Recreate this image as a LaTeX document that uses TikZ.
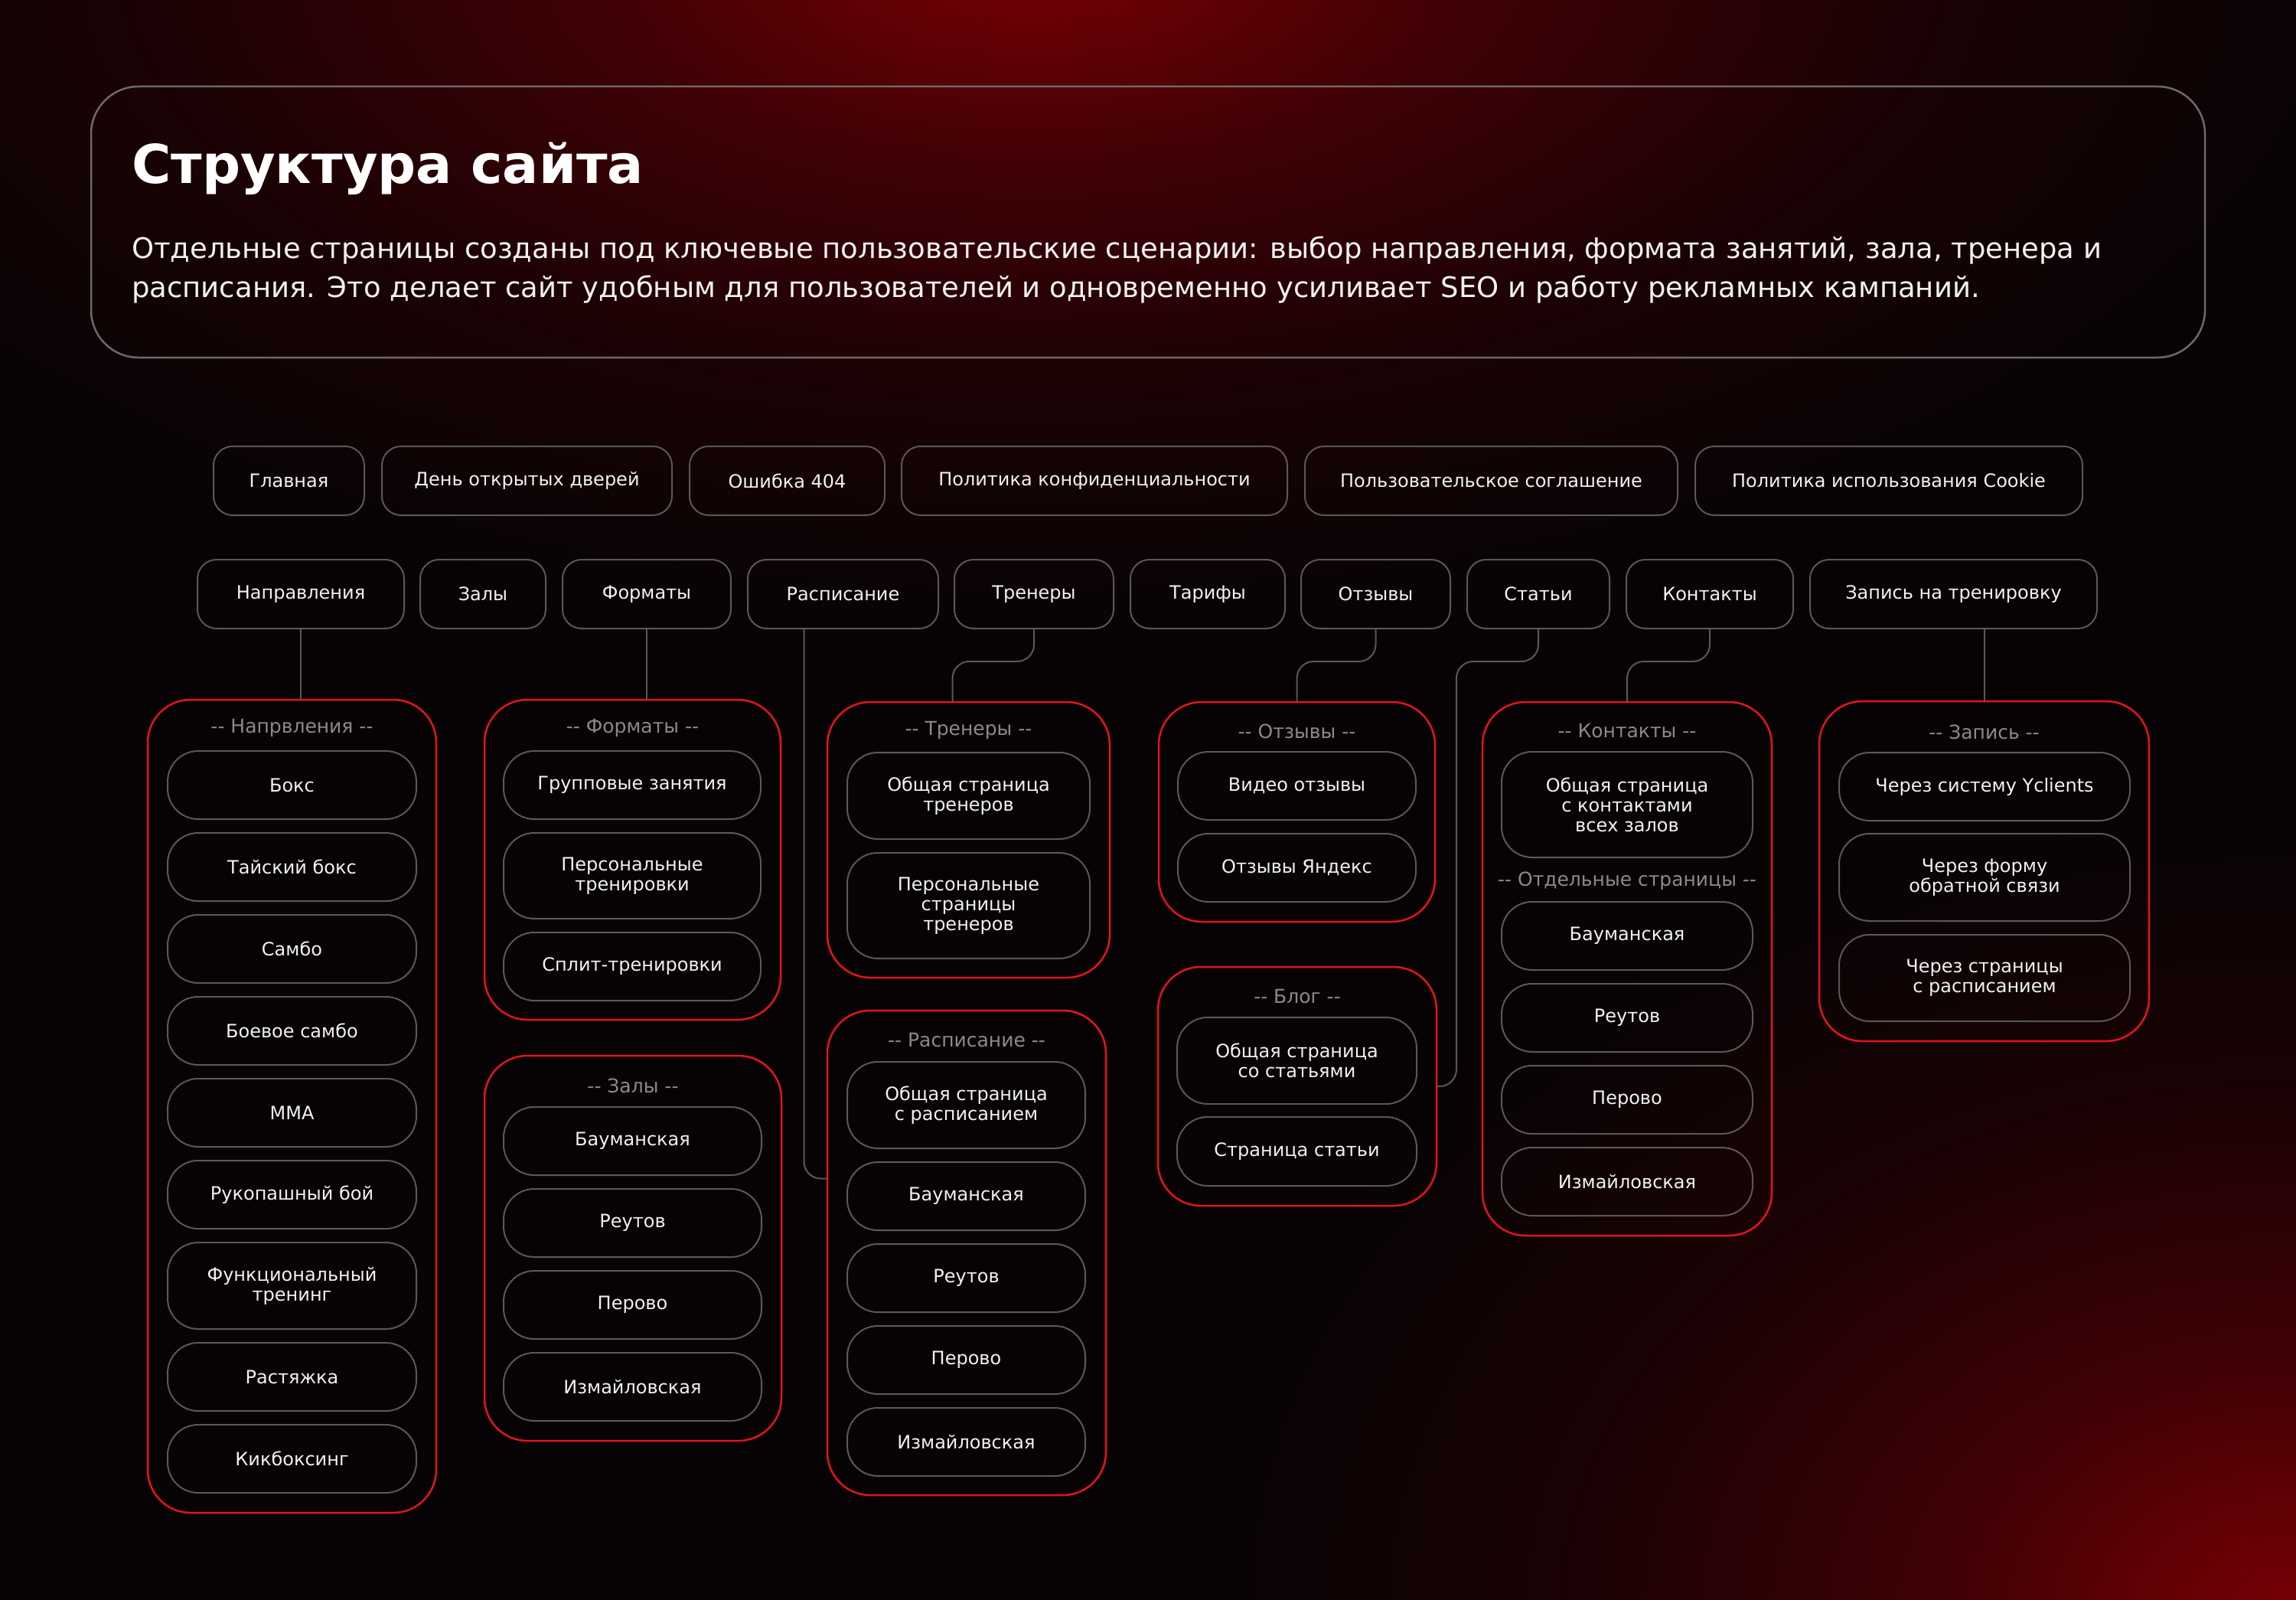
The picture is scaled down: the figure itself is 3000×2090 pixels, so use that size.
\documentclass[tikz,border=0pt]{standalone}
\usepackage{fontspec}
\setmainfont{DejaVu Sans}
\definecolor{bgc}{HTML}{070304}
\definecolor{glowred}{HTML}{780006}
\definecolor{linered}{HTML}{E3131D}
\definecolor{boxgray}{HTML}{585858}
\definecolor{panelgray}{HTML}{6A6A6A}
\definecolor{hdrgray}{HTML}{8A8A8A}
\definecolor{txt}{HTML}{F2F2F2}
\colorlet{glowmid}{glowred!50!bgc}
\colorlet{glowlow}{glowred!18!bgc}
\pgfdeclareradialshading{glowsh}{\pgfpointorigin}{color(0bp)=(glowred); color(8bp)=(glowmid); color(16bp)=(glowlow); color(25bp)=(bgc); color(50bp)=(bgc)}
\tikzset{
  topbox/.style={draw=boxgray, line width=2pt, rounded corners=25pt, inner sep=0pt, outer sep=0pt,
    text=txt, font=\fontsize{24}{26}\selectfont, align=center},
  item/.style={topbox, rounded corners=40pt},
  grp/.style={draw=linered, line width=2.5pt, rounded corners=56pt, inner sep=0pt, outer sep=0pt},
  panel/.style={draw=panelgray, line width=2.5pt, rounded corners=62pt, inner sep=0pt, outer sep=0pt},
  grphead/.style={text=hdrgray, font=\fontsize{25}{27}\selectfont, inner sep=0pt},
  conn/.style={draw=boxgray, line width=2pt, rounded corners=22pt},
}
\newcommand\bx[7][item]{\node[#1, minimum width=#5-#3, minimum height=#6-#4] (#2) at ({(#3+#5)/2},{(#4+#6)/2}) {#7};}
\begin{document}
\begin{tikzpicture}[x=1pt,y=-1pt]
\useasboundingbox (0,0) rectangle (3000,2090);
\fill[bgc] (0,0) rectangle (3000,2090);
\begin{scope}
\clip (0,0) rectangle (3000,2090);
\shade[shading=glowsh] (1350,-60) ellipse [x radius=1800pt, y radius=880pt];
\shade[shading=glowsh] (3000,2110) ellipse [x radius=1450pt, y radius=1050pt];
\end{scope}

% header panel
\bx[panel]{panel}{119}{113}{2881}{467}{}
\node[anchor=base west, inner sep=0pt, text=white, font=\bfseries\fontsize{70}{74}\selectfont] (title) at (172,239) {Структура сайта};
\node[anchor=base west, inner sep=0pt, text=txt, font=\fontsize{37}{42}\selectfont] (para1) at (172,337) {Отдельные страницы созданы под ключевые пользовательские сценарии: выбор направления, формата занятий, зала, тренера и};
\node[anchor=base west, inner sep=0pt, text=txt, font=\fontsize{37}{42}\selectfont] (para2) at (172,388) {расписания. Это делает сайт удобным для пользователей и одновременно усиливает SEO и работу рекламных кампаний.};

% top row
\bx[topbox]{t1}{279}{583}{476}{673}{Главная}
\bx[topbox]{t2}{499}{583}{878}{673}{День открытых дверей}
\bx[topbox]{t3}{901}{583}{1156}{673}{Ошибка 404}
\bx[topbox]{t4}{1178}{583}{1682}{673}{Политика конфиденциальности}
\bx[topbox]{t5}{1705}{583}{2192}{673}{Пользовательское соглашение}
\bx[topbox]{t6}{2215}{583}{2721}{673}{Политика использования Cookie}

% second row
\bx[topbox]{napr}{258}{731}{528}{821}{Направления}
\bx[topbox]{zaly}{549}{731}{713}{821}{Залы}
\bx[topbox]{fmt}{735}{731}{955}{821}{Форматы}
\bx[topbox]{rasp}{977}{731}{1226}{821}{Расписание}
\bx[topbox]{trn}{1247}{731}{1455}{821}{Тренеры}
\bx[topbox]{tar}{1477}{731}{1679}{821}{Тарифы}
\bx[topbox]{otz}{1700}{731}{1895}{821}{Отзывы}
\bx[topbox]{stat}{1917}{731}{2103}{821}{Статьи}
\bx[topbox]{kont}{2125}{731}{2343}{821}{Контакты}
\bx[topbox]{zap}{2365}{731}{2740}{821}{Запись на тренировку}

% group: Направления
\bx[grp]{gN}{193}{914}{570}{1976}{}
\node[grphead] (hN) at (gN.north |- 0,951) {-{}- Напрвления -{}-};
\bx{n1}{219}{981}{544}{1070}{Бокс}
\bx{n2}{219}{1088}{544}{1177}{Тайский бокс}
\bx{n3}{219}{1195}{544}{1284}{Самбо}
\bx{n4}{219}{1302}{544}{1391}{Боевое самбо}
\bx{n5}{219}{1409}{544}{1498}{ММА}
\bx{n6}{219}{1516}{544}{1605}{Рукопашный бой}
\bx{n7}{219}{1623}{544}{1736}{Функциональный\\тренинг}
\bx{n8}{219}{1754}{544}{1843}{Растяжка}
\bx{n9}{219}{1861}{544}{1950}{Кикбоксинг}

% group: Форматы
\bx[grp]{gF}{633}{914}{1020}{1332}{}
\node[grphead] (hF) at (gF.north |- 0,951) {-{}- Форматы -{}-};
\bx{f1}{658}{981}{994}{1070}{Групповые занятия}
\bx{f2}{658}{1088}{994}{1200}{Персональные\\тренировки}
\bx{f3}{658}{1218}{994}{1307}{Сплит-тренировки}

% group: Залы
\bx[grp]{gL}{633}{1379}{1021}{1882}{}
\node[grphead] (hL) at (gL.north |- 0,1418) {-{}- Залы -{}-};
\bx{l1}{658}{1446}{995}{1535}{Бауманская}
\bx{l2}{658}{1553}{995}{1642}{Реутов}
\bx{l3}{658}{1660}{995}{1749}{Перово}
\bx{l4}{658}{1767}{995}{1856}{Измайловская}

% group: Тренеры
\bx[grp]{gT}{1081}{917}{1450}{1277}{}
\node[grphead] (hT) at (gT.north |- 0,954) {-{}- Тренеры -{}-};
\bx{tr1}{1107}{983}{1424}{1096}{Общая страница\\тренеров}
\bx{tr2}{1107}{1114}{1424}{1252}{Персональные\\страницы\\тренеров}

% group: Расписание
\bx[grp]{gR}{1081}{1320}{1445}{1953}{}
\node[grphead] (hR) at (gR.north |- 0,1359) {-{}- Расписание -{}-};
\bx{r1}{1107}{1387}{1418}{1500}{Общая страница\\с расписанием}
\bx{r2}{1107}{1518}{1418}{1607}{Бауманская}
\bx{r3}{1107}{1625}{1418}{1714}{Реутов}
\bx{r4}{1107}{1732}{1418}{1821}{Перово}
\bx{r5}{1107}{1839}{1418}{1928}{Измайловская}

% group: Отзывы
\bx[grp]{gO}{1514}{917}{1875}{1204}{}
\node[grphead] (hO) at (gO.north |- 0,955) {-{}- Отзывы -{}-};
\bx{o1}{1539}{982}{1850}{1071}{Видео отзывы}
\bx{o2}{1539}{1089}{1850}{1178}{Отзывы Яндекс}

% group: Блог
\bx[grp]{gB}{1513}{1263}{1877}{1575}{}
\node[grphead] (hB) at (gB.north |- 0,1302) {-{}- Блог -{}-};
\bx{b1}{1538}{1329}{1851}{1442}{Общая страница\\со статьями}
\bx{b2}{1538}{1459}{1851}{1549}{Страница статьи}

% group: Контакты
\bx[grp]{gK}{1937}{917}{2315}{1614}{}
\node[grphead] (hK) at (gK.north |- 0,955) {-{}- Контакты -{}-};
\bx{k1}{1962}{982}{2290}{1120}{Общая страница\\с контактами\\всех залов}
\node[grphead] (hK2) at (gK.north |- 0,1151) {-{}- Отдельные страницы -{}-};
\bx{k2}{1962}{1178}{2290}{1267}{Бауманская}
\bx{k3}{1962}{1285}{2290}{1374}{Реутов}
\bx{k4}{1962}{1392}{2290}{1481}{Перово}
\bx{k5}{1962}{1499}{2290}{1588}{Измайловская}

% group: Запись
\bx[grp]{gZ}{2377}{916}{2808}{1360}{}
\node[grphead] (hZ) at (gZ.north |- 0,956) {-{}- Запись -{}-};
\bx{z1}{2403}{983}{2783}{1072}{Через систему Yclients}
\bx{z2}{2403}{1089}{2783}{1203}{Через форму\\обратной связи}
\bx{z3}{2403}{1221}{2783}{1334}{Через страницы\\с расписанием}

% connectors
\draw[conn] (napr.south) -- (napr.south |- gN.north);
\draw[conn] (fmt.south) -- (fmt.south |- gF.north);
\draw[conn] ([xshift=-51pt]rasp.south) |- ([yshift=97pt]gR.west);
\draw[conn] (trn.south) -- ++(0,43) -| ([xshift=-21pt]gT.north);
\draw[conn] (otz.south) -- ++(0,43) -| (gO.north);
\draw[conn] (stat.south) -- ++(0,43) -| ([xshift=26pt]gB.east) -- (gB.east);
\draw[conn] (kont.south) -- ++(0,43) -| (gK.north);
\draw[conn] (gZ.north |- zap.south) -- (gZ.north);
\end{tikzpicture}
\end{document}
